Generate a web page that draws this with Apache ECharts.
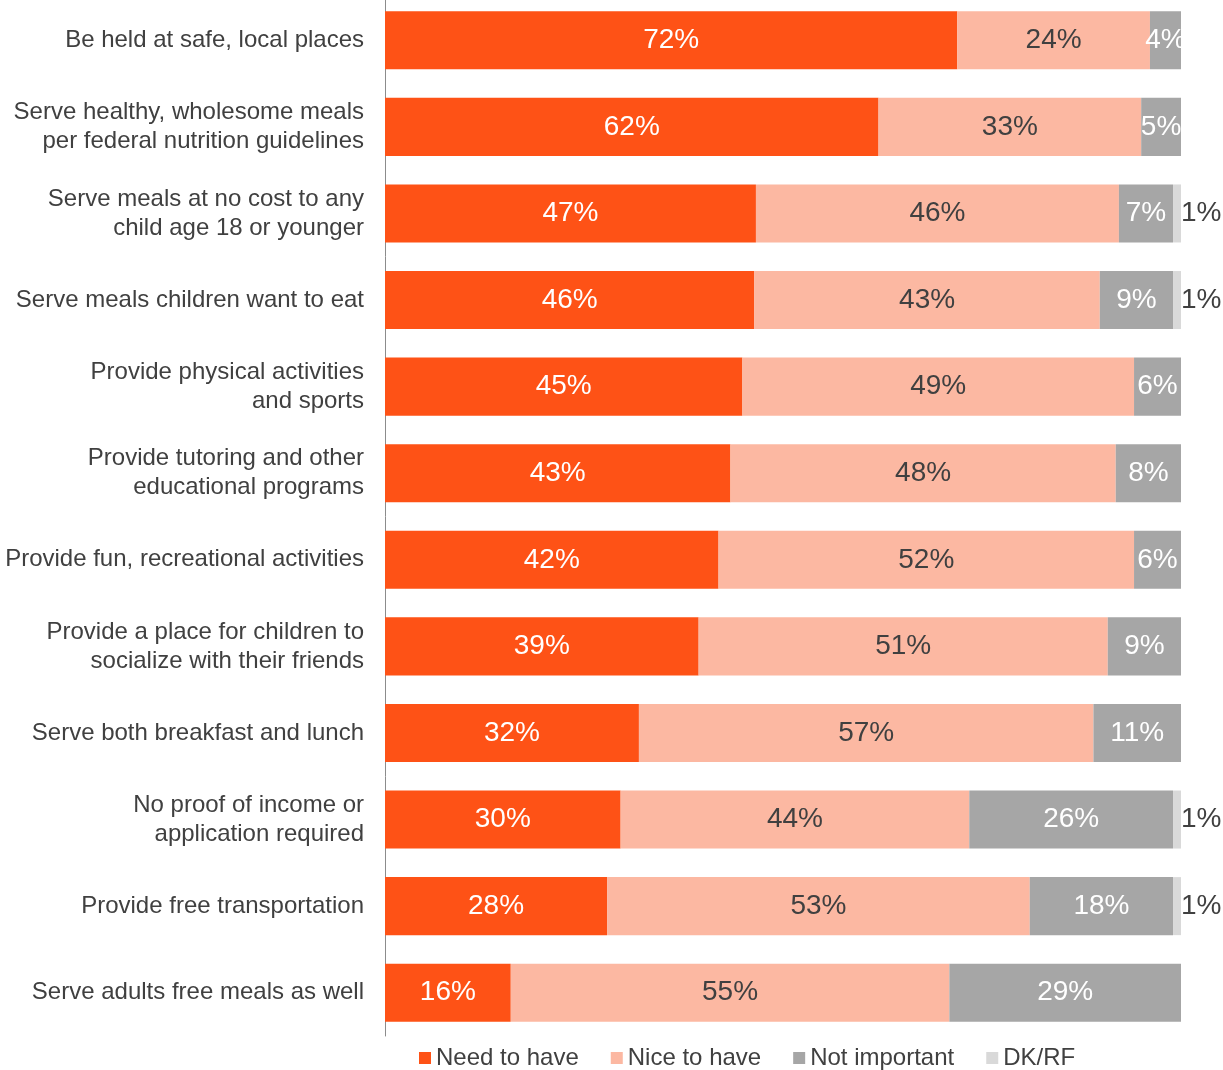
<!DOCTYPE html>
<html>
<head>
<meta charset="utf-8">
<title>Summer meal site features</title>
<script src="https://cdn.jsdelivr.net/npm/echarts@6/dist/echarts.min.js"></script>
<style>
    html, body { margin: 0; padding: 0; background: #fff; overflow: hidden; }
    #chart { width: 1223px; height: 1073px; margin-top: -3px; }
</style>
</head>
<body>
<div id="chart"></div>
<script>
    // categories, top to bottom
    var categories = [
        'Be held at safe, local places',
        'Serve healthy, wholesome meals\nper federal nutrition guidelines',
        'Serve meals at no cost to any\nchild age 18 or younger',
        'Serve meals children want to eat',
        'Provide physical activities\nand sports',
        'Provide tutoring and other\neducational programs',
        'Provide fun, recreational activities',
        'Provide a place for children to\nsocialize with their friends',
        'Serve both breakfast and lunch',
        'No proof of income or\napplication required',
        'Provide free transportation',
        'Serve adults free meals as well'
    ];

    // percentages (labels show them rounded)
    var needToHave   = [71.9, 62.0, 46.6, 46.4, 44.9, 43.4, 41.9, 39.4, 31.9, 29.6, 27.9, 15.8];
    var niceToHave   = [24.2, 33.0, 45.6, 43.4, 49.2, 48.4, 52.2, 51.4, 57.1, 43.8, 53.1, 55.1];
    var notImportant = [3.9, 5.0, 6.8, 9.2, 5.9, 8.2, 5.9, 9.2, 11.0, 25.6, 18.0, 29.1];
    var dkRf         = [0, 0, 1.0, 1.0, 0, 0, 0, 0, 0, 1.0, 1.0, 0];

    var chart = echarts.init(document.getElementById('chart'));

    function pct(p) {
        return p.value > 0 ? Math.round(p.value) + '%' : '';
    }

    function makeSeries(name, data, color, labelColor, pos) {
        return {
            name: name,
            type: 'bar',
            stack: 'total',
            barCategoryGap: '33%',
            data: data,
            itemStyle: { color: color },
            label: {
                show: true,
                position: pos || 'inside',
                distance: 0,
                color: labelColor,
                fontSize: 28,
                fontFamily: 'Liberation Sans, Arial, sans-serif',
                formatter: pct
            },
            emphasis: { disabled: true },
            animation: false
        };
    }

    var option = {
        grid: {
            left: 385,
            right: 42,
            top: 0,
            height: 1039
        },
        legend: {
            left: 414,
            top: 1044,
            itemWidth: 12,
            itemHeight: 12,
            itemGap: 32,
            icon: 'rect',
            textStyle: {
                fontSize: 24,
                color: '#404040',
                fontFamily: 'Liberation Sans, Arial, sans-serif'
            },
            data: ['Need to have', 'Nice to have', 'Not important', 'DK/RF']
        },
        xAxis: {
            type: 'value',
            min: 0,
            max: 100,
            show: false
        },
        yAxis: {
            type: 'category',
            inverse: true,
            data: categories,
            axisLine: { show: true, lineStyle: { color: '#8c8c8c', width: 1 } },
            axisTick: { show: false },
            axisLabel: {
                margin: 21,
                fontSize: 24,
                lineHeight: 29,
                color: '#404040',
                fontFamily: 'Liberation Sans, Arial, sans-serif',
                align: 'right'
            }
        },
        series: [
            makeSeries('Need to have', needToHave, '#FE5216', '#ffffff'),
            makeSeries('Nice to have', niceToHave, '#FCB8A2', '#404040'),
            makeSeries('Not important', notImportant, '#A6A6A6', '#ffffff'),
            makeSeries('DK/RF', dkRf, '#D9D9D9', '#404040', 'right')
        ]
    };

    chart.setOption(option);
</script>
</body>
</html>
